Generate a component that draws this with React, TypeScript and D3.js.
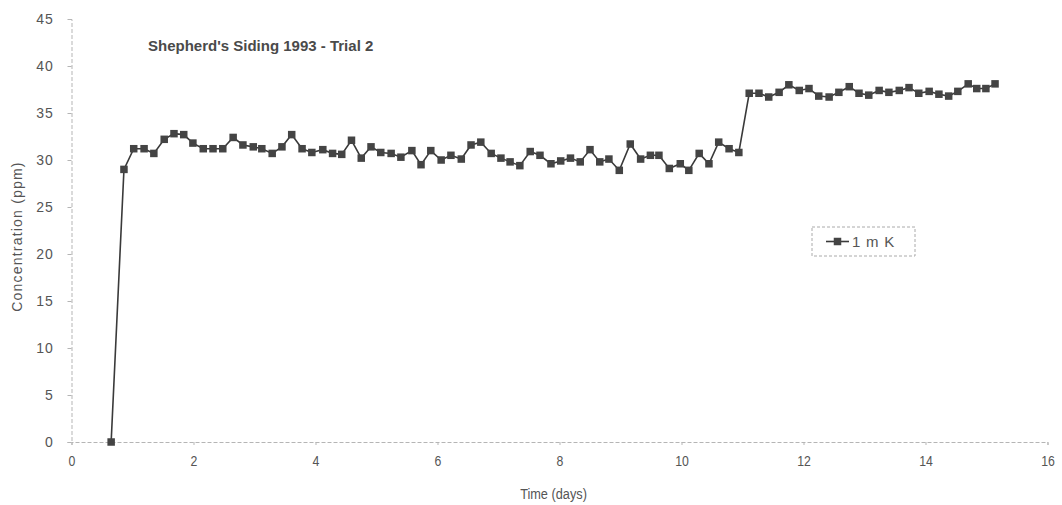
import { useEffect, useRef } from 'react';
import * as d3 from 'd3';

// time (days) of each sample
const times = [
  0.65, 0.86, 1.02, 1.19, 1.35, 1.52, 1.68, 1.84, 1.99, 2.16,
  2.32, 2.48, 2.65, 2.81, 2.98, 3.12, 3.29, 3.45, 3.61, 3.78,
  3.94, 4.12, 4.28, 4.43, 4.59, 4.75, 4.91, 5.07, 5.24, 5.40,
  5.58, 5.73, 5.89, 6.06, 6.22, 6.39, 6.55, 6.71, 6.88, 7.04,
  7.19, 7.35, 7.52, 7.68, 7.86, 8.02, 8.18, 8.34, 8.50, 8.66,
  8.81, 8.98, 9.16, 9.33, 9.49, 9.63, 9.80, 9.98, 10.12, 10.29,
  10.45, 10.61, 10.78, 10.94, 11.11, 11.27, 11.43, 11.60, 11.76, 11.93,
  12.09, 12.25, 12.42, 12.58, 12.75, 12.91, 13.07, 13.24, 13.40, 13.57,
  13.73, 13.89, 14.06, 14.22, 14.38, 14.53, 14.70, 14.84, 14.99, 15.14,
];

// concentration (ppm), series "1 m K"
const conc1mK = [
  0, 29.0, 31.2, 31.2, 30.7, 32.2, 32.8, 32.7, 31.8, 31.2,
  31.2, 31.2, 32.4, 31.6, 31.4, 31.2, 30.7, 31.4, 32.7, 31.2,
  30.8, 31.1, 30.7, 30.6, 32.1, 30.2, 31.4, 30.8, 30.7, 30.3,
  31.0, 29.5, 31.0, 30.0, 30.5, 30.1, 31.6, 31.9, 30.7, 30.2,
  29.8, 29.4, 30.9, 30.5, 29.6, 29.9, 30.2, 29.8, 31.1, 29.8,
  30.1, 28.9, 31.7, 30.1, 30.5, 30.5, 29.1, 29.6, 28.9, 30.7,
  29.6, 31.9, 31.2, 30.8, 37.1, 37.1, 36.7, 37.2, 38.0, 37.4,
  37.6, 36.8, 36.7, 37.2, 37.8, 37.1, 36.9, 37.4, 37.2, 37.4,
  37.7, 37.1, 37.3, 37.0, 36.8, 37.3, 38.1, 37.6, 37.6, 38.1,
];

const xTicks = [0, 2, 4, 6, 8, 10, 12, 14, 16];
const yTicks = [0, 5, 10, 15, 20, 25, 30, 35, 40, 45];
const seriesName = '1 m K';
const title = "Shepherd's Siding 1993 - Trial 2";

function App() {
  const svgRef = useRef<SVGSVGElement>(null);

  useEffect(() => {
    const W = 1062;
    const H = 505;
    const svg = d3.select(svgRef.current);
    svg.selectAll('*').remove();

    const x = d3.scaleLinear().domain([0, 16]).range([71.5, 1047.5]);
    const y = d3.scaleLinear().domain([0, 45]).range([442, 19]);
    const grey = '#555';
    const axisGrey = '#b5b5b5';
    const font = '"Liberation Sans", Arial, sans-serif';

    svg.append('rect').attr('width', W).attr('height', H).attr('fill', '#fff');

    // Y axis
    const yAxis = svg
      .append('g')
      .attr('transform', `translate(${x(0)},0)`)
      .call(d3.axisLeft(y).tickValues(yTicks).tickSize(4).tickPadding(14));
    yAxis.select('.domain').attr('stroke', axisGrey).attr('stroke-dasharray', '4,2');
    yAxis.selectAll('.tick line').attr('stroke', axisGrey);
    yAxis
      .selectAll('.tick text')
      .attr('fill', grey)
      .style('font-family', font)
      .style('font-size', '14px')
      .style('letter-spacing', '0.8px');

    // X axis (labels look condensed in the original)
    const xAxis = svg
      .append('g')
      .attr('transform', `translate(0,${y(0)})`)
      .call(d3.axisBottom(x).tickValues(xTicks).tickSize(3).tickPadding(10));
    xAxis.select('.domain').attr('stroke', axisGrey).attr('stroke-dasharray', '4,2');
    xAxis.selectAll('.tick line').attr('stroke', axisGrey);
    xAxis
      .selectAll('.tick text')
      .attr('fill', grey)
      .attr('transform', 'scale(0.82,1)')
      .style('font-family', font)
      .style('font-size', '15px');

    // axis titles
    svg
      .append('text')
      .attr('transform', `translate(${(x(0) + x(16)) / 2 - 6},499) scale(0.85,1)`)
      .attr('text-anchor', 'middle')
      .attr('fill', grey)
      .style('font-family', font)
      .style('font-size', '15px')
      .text('Time (days)');

    svg
      .append('text')
      .attr('transform', `translate(22,${y(22.5) + 6}) rotate(-90)`)
      .attr('text-anchor', 'middle')
      .attr('fill', grey)
      .style('font-family', font)
      .style('font-size', '14px')
      .style('letter-spacing', '1.2px')
      .text('Concentration (ppm)');

    // title
    svg
      .append('text')
      .attr('x', 148)
      .attr('y', 51)
      .attr('fill', '#4a4a4a')
      .style('font-family', font)
      .style('font-size', '15px')
      .style('font-weight', 'bold')
      .text(title);

    // series
    const data = times.map((t, i) => ({ t, v: conc1mK[i] }));
    const line = d3
      .line<{ t: number; v: number }>()
      .x((d) => x(d.t))
      .y((d) => y(d.v));

    svg
      .append('path')
      .datum(data)
      .attr('d', line)
      .attr('fill', 'none')
      .attr('stroke', '#3a3a3a')
      .attr('stroke-width', 1.6);

    const s = 7.5;
    svg
      .selectAll('.marker')
      .data(data)
      .enter()
      .append('rect')
      .attr('class', 'marker')
      .attr('x', (d) => x(d.t) - s / 2)
      .attr('y', (d) => y(d.v) - s / 2)
      .attr('width', s)
      .attr('height', s)
      .attr('fill', '#444');

    // legend
    const lg = svg.append('g').attr('transform', 'translate(812,227)');
    lg.append('rect')
      .attr('width', 103)
      .attr('height', 29)
      .attr('fill', '#fff')
      .attr('stroke', '#aaa')
      .attr('stroke-dasharray', '3,2');
    lg.append('line')
      .attr('x1', 14)
      .attr('x2', 37)
      .attr('y1', 14.5)
      .attr('y2', 14.5)
      .attr('stroke', '#3a3a3a')
      .attr('stroke-width', 1.6);
    lg.append('rect')
      .attr('x', 25.5 - s / 2)
      .attr('y', 14.5 - s / 2)
      .attr('width', s)
      .attr('height', s)
      .attr('fill', '#444');
    lg.append('text')
      .attr('x', 40)
      .attr('y', 20)
      .attr('fill', grey)
      .style('font-family', font)
      .style('font-size', '15px')
      .style('letter-spacing', '0.8px')
      .text(seriesName);
  }, []);

  return (
    <svg
      ref={svgRef}
      width={1062}
      height={505}
      style={{ position: 'absolute', left: 0, top: 0, display: 'block' }}
    />
  );
}

export default App;
